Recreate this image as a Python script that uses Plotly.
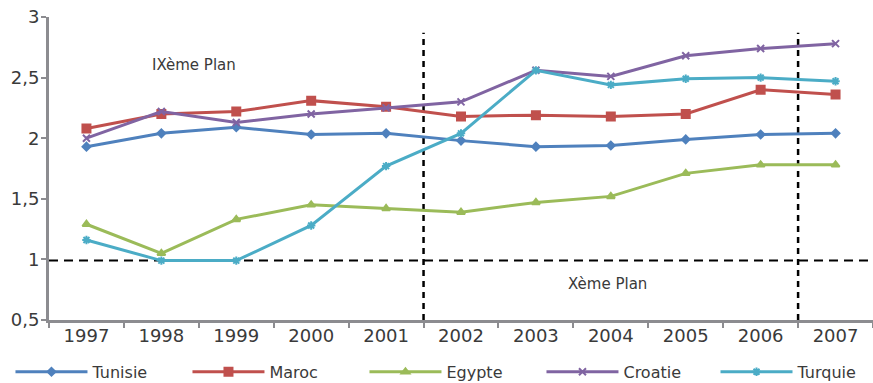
import plotly.graph_objects as go

years = ["1997", "1998", "1999", "2000", "2001", "2002", "2003", "2004", "2005", "2006", "2007"]

tunisie = [1.93, 2.04, 2.09, 2.03, 2.04, 1.98, 1.93, 1.94, 1.99, 2.03, 2.04]
maroc = [2.08, 2.20, 2.22, 2.31, 2.26, 2.18, 2.19, 2.18, 2.20, 2.40, 2.36]
egypte = [1.29, 1.05, 1.33, 1.45, 1.42, 1.39, 1.47, 1.52, 1.71, 1.78, 1.78]
croatie = [2.00, 2.22, 2.13, 2.20, 2.25, 2.30, 2.56, 2.51, 2.68, 2.74, 2.78]
turquie = [1.16, 0.99, 0.99, 1.28, 1.77, 2.04, 2.56, 2.44, 2.49, 2.50, 2.47]

series = [
    ("Tunisie", tunisie, "#4f81bd", "diamond", 6, "legend"),
    ("Maroc", maroc, "#c0504d", "square", 8, "legend"),
    ("Egypte", egypte, "#9bbb59", "triangle-up", 7, "legend"),
    ("Croatie", croatie, "#8064a2", "x-thin", 7, "legend"),
    ("Turquie", turquie, "#4bacc6", "asterisk", 7, "legend2"),
]

font_family = "DejaVu Sans"
text_color = "#3a3a3a"
axis_color = "#8c8c90"

fig = go.Figure()
for name, vals, color, symbol, size, leg in series:
    fig.add_trace(go.Scatter(
        x=years, y=vals, name=name, mode="lines+markers", legend=leg,
        line=dict(color=color, width=3),
        marker=dict(symbol=symbol, size=size, color=color,
                    line=dict(color=color, width=2)),
    ))

# Plan boundaries and the reference level at 1
for xb in (4.5, 9.5):
    fig.add_shape(type="line", xref="x", yref="y", x0=xb, x1=xb, y0=0.5, y1=2.87,
                  line=dict(color="black", width=2.5, dash="6px,5px"), layer="below")
fig.add_shape(type="line", xref="x", yref="y", x0=-0.5, x1=10.5, y0=0.99, y1=0.99,
              line=dict(color="black", width=2, dash="9px,6px"), layer="below")

fig.add_annotation(x=1.43, y=2.6, xref="x", yref="y", text="IXème Plan", showarrow=False,
                   font=dict(family=font_family, size=15, color=text_color))
fig.add_annotation(x=6.95, y=0.8, xref="x", yref="y", text="Xème Plan", showarrow=False,
                   font=dict(family=font_family, size=15, color=text_color))

legend_style = dict(orientation="h", yanchor="middle", y=0.029, xanchor="left",
                    xref="container", yref="container", entrywidth=90,
                    entrywidthmode="pixels", itemwidth=72,
                    font=dict(size=16, color=text_color), bgcolor="rgba(0,0,0,0)")

fig.update_layout(
    width=873, height=383,
    margin=dict(l=49, r=0, t=17, b=63, autoexpand=False),
    paper_bgcolor="white", plot_bgcolor="white",
    separators=", ",
    font=dict(family=font_family, size=17, color=text_color),
    showlegend=True,
    legend=dict(x=0.012, **legend_style),
    legend2=dict(x=0.8196, **legend_style),
    xaxis=dict(
        type="category", range=[-0.5, 10.5],
        showline=True, linecolor=axis_color, linewidth=3,
        ticks="outside", tickson="boundaries", ticklen=5, tickwidth=2, tickcolor=axis_color,
        ticklabelstandoff=-3,
        showgrid=False, zeroline=False,
        tickfont=dict(size=18, color=text_color),
    ),
    yaxis=dict(
        range=[0.5, 3], tickvals=[0.5, 1, 1.5, 2, 2.5, 3],
        showline=True, linecolor=axis_color, linewidth=3,
        ticks="outside", ticklen=5, tickwidth=2, tickcolor=axis_color,
        ticklabelstandoff=-2,
        showgrid=False, zeroline=False,
        tickfont=dict(size=18, color=text_color),
    ),
)

fig.write_html("out.html")
